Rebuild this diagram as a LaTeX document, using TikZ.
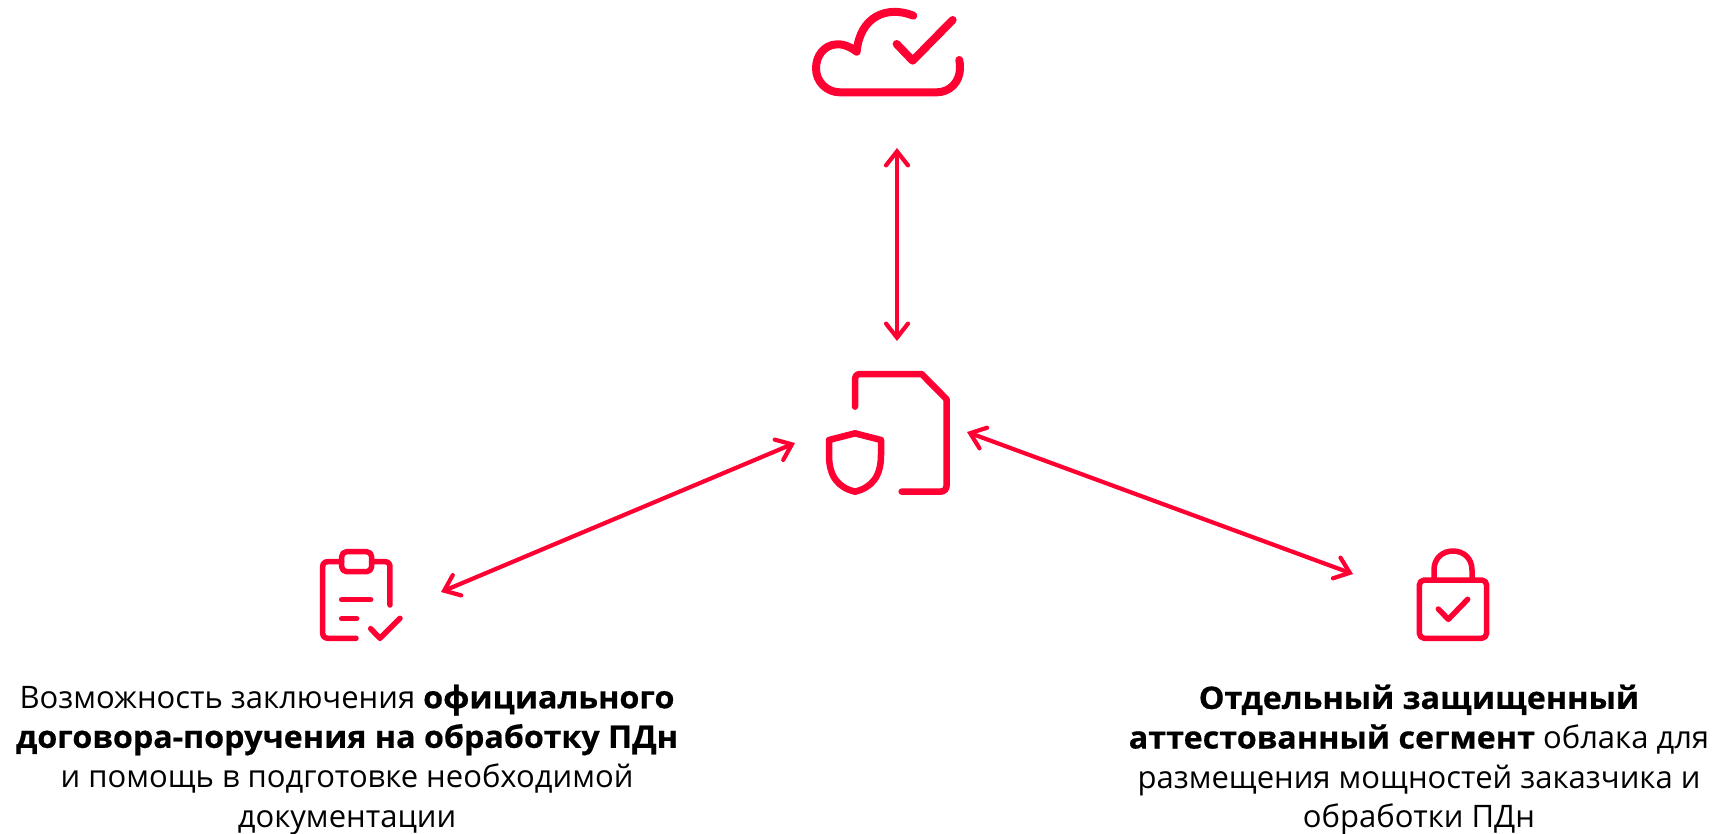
\documentclass[tikz,border=0pt]{standalone}
\usepackage{fontspec}
\setmainfont{Open Sans}[BoldFeatures={FakeStretch=1.04,FakeBold=0.5}]
\usetikzlibrary{arrows.meta}
\definecolor{brandred}{HTML}{FF0033}
\tikzset{
  icon/.style={draw=brandred,line cap=round,line join=round,fill=none},
  link/.style={draw=brandred,line width=4.2pt,{Straight Barb[length=14pt,width=22pt,line cap=round]}-{Straight Barb[length=14pt,width=22pt,line cap=round]}},
  caption/.style={align=center,inner sep=0pt,text=black,font=\fontsize{31pt}{39.6pt}\selectfont}
}
\begin{document}
\begin{tikzpicture}[x=1pt,y=-1pt]
\useasboundingbox (0,0) rectangle (1716,833);
% cloud
\begin{scope}[shift={(780,0)},x=0.3333pt,y=-0.3333pt,icon,line width=8pt]
\draw (400,47) .. controls (320,15) and (240,50) .. (230,155)
  .. controls (205,135) and (180,132) .. (170,133)
  .. controls (130,135) and (108,170) .. (108,205)
  .. controls (108,245) and (140,277) .. (180,277)
  -- (470,277) .. controls (510,277) and (540,245) .. (540,205)
  .. controls (540,197) and (540,190) .. (538,180);
\draw (350,132) -- (398,182) -- (518,60);
\end{scope}
% document with shield
\begin{scope}[shift={(780,320)},x=0.3333pt,y=-0.3333pt,icon,line width=6.5pt]
\draw (225,260) -- (225,180) .. controls (225,168) and (230,162) .. (242,162)
  -- (425,162) -- (500,238) -- (500,495) .. controls (500,508) and (493,515) .. (480,515) -- (365,515);
\draw (225,340) -- (303,360) -- (303,405) .. controls (303,470) and (275,503) .. (225,515)
  .. controls (175,503) and (147,470) .. (147,405) -- (147,360) -- cycle;
\end{scope}
% clipboard
\begin{scope}[shift={(300,530)},x=0.3333pt,y=-0.3333pt,icon,line width=5.5pt]
\draw (168,325) -- (85,325) .. controls (73,325) and (68,318) .. (68,308) -- (68,112)
  .. controls (68,100) and (73,95) .. (85,95) -- (125,95);
\draw (215,95) -- (253,95) .. controls (265,95) and (270,100) .. (270,112) -- (270,225);
\draw[rounded corners=5pt] (125,65) rectangle (215,125);
\draw (125,209) -- (212,209);
\draw (125,266) -- (170,266);
\draw (212,296) -- (240,325) -- (300,265);
\end{scope}
% lock
\begin{scope}[shift={(1330,530)},x=0.3333pt,y=-0.3333pt,icon,line width=5.5pt]
\draw[rounded corners=5pt] (268,150) rectangle (470,325);
\draw (312,150) -- (312,120) .. controls (312,85) and (337,63) .. (369,63)
  .. controls (401,63) and (426,85) .. (426,120) -- (426,150);
\draw (325,237) -- (355,268) -- (413,208);
\end{scope}
% connector ends
\coordinate (cloudEnd) at (897,148);
\coordinate (docTop) at (897,341);
\coordinate (docLeft) at (795,443);
\coordinate (clipEnd) at (441,592);
\coordinate (docRight) at (967,432);
\coordinate (lockEnd) at (1353,574);
\draw[link] (cloudEnd) -- (docTop);
\draw[link] (docLeft) -- (clipEnd);
\draw[link] (docRight) -- (lockEnd);
% captions
\node[caption,anchor=north] (leftText) at (347,684.5) {Возможность заключения \textbf{официального}\\\textbf{договора-поручения на обработку ПДн}\\и помощь в подготовке необходимой\\документации};
\node[caption,anchor=north] (rightText) at (1419,684.5) {\textbf{Отдельный защищенный}\\\textbf{аттестованный сегмент} облака для\\размещения мощностей заказчика и\\обработки ПДн};
\end{tikzpicture}
\end{document}
